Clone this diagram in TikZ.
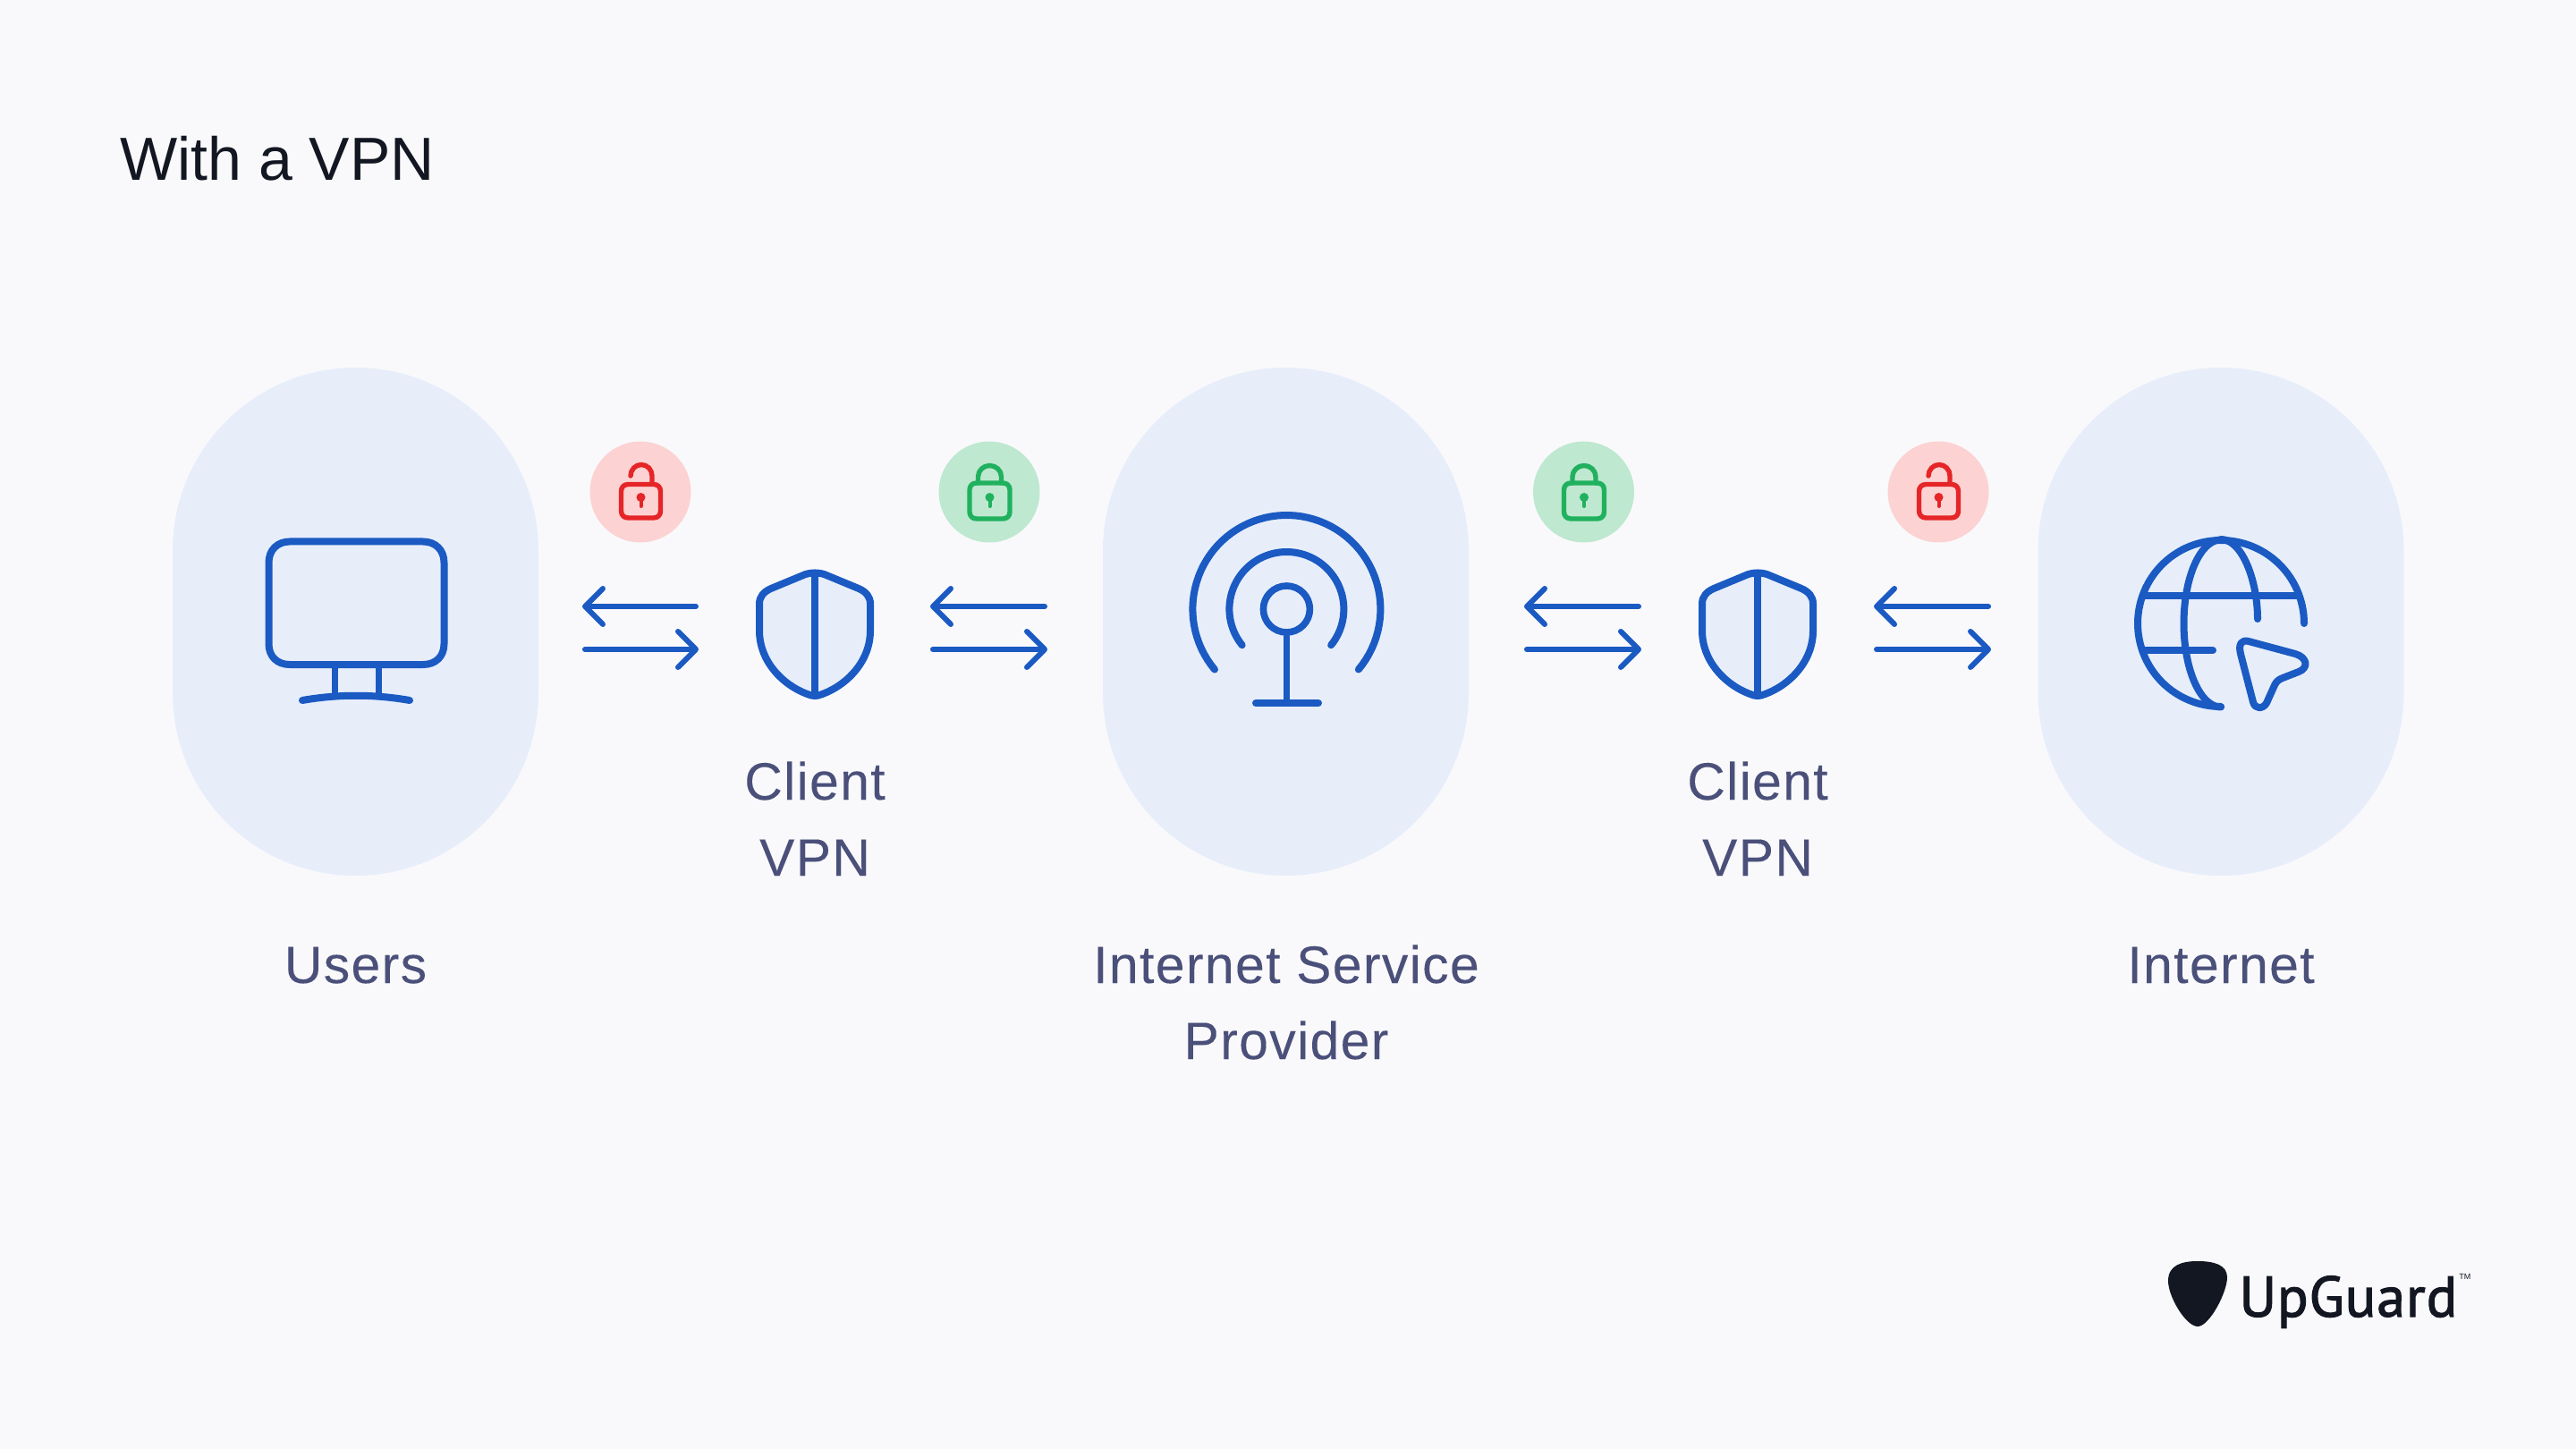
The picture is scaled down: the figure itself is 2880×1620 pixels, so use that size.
\documentclass[tikz,border=0pt]{standalone}
\usepackage{fontspec}
\setmainfont{Liberation Sans}
\newfontfamily\labfont[FakeBold=0.12,LetterSpace=2.4]{Liberation Sans}
\newfontfamily\logofont[FakeBold=1.8,LetterSpace=1.5]{PT Sans}
\usetikzlibrary{arrows.meta}
\definecolor{bgc}{HTML}{F9F9FC}
\definecolor{pillc}{HTML}{E7EEFA}
\definecolor{bluec}{HTML}{1A5AC2}
\definecolor{txtc}{HTML}{4A5079}
\definecolor{darkc}{HTML}{131722}
\definecolor{redc}{HTML}{E52527}
\definecolor{redbg}{HTML}{FCD2D2}
\definecolor{greenc}{HTML}{20B15E}
\definecolor{greenbg}{HTML}{BEE8D0}
\tikzset{
  pill/.style={fill=pillc,draw=none,rounded corners=102.2pt,minimum width=204.5pt,minimum height=284pt,inner sep=0pt},
  ico/.style={draw=bluec,line width=4pt,line cap=round,line join=round},
  icothin/.style={draw=bluec,line width=3.5pt,line cap=round,line join=round},
  flow/.style={draw=bluec,line width=3pt,line cap=round,shorten <=1.5pt,-{Straight Barb[length=10pt,width=20pt,line width=3pt,round]}},
  label/.style={text=txtc,font=\labfont\fontsize{29.4}{29.4}\selectfont,inner sep=0pt,anchor=base},
  badge/.style={circle,minimum size=56.5pt,inner sep=0pt,draw=none},
  lockline/.style={line width=2.7pt,line cap=round,line join=round},
}
\newcommand{\openlock}[1]{%
  \draw[lockline,draw=redc] (#1-22,549.5) -- (#1-22,571) .. controls (#1-22,576) and (#1-19,579) .. (#1-14,579) -- (#1+14,579) .. controls (#1+19,579) and (#1+22,576) .. (#1+22,571) -- (#1+22,549.5) .. controls (#1+22,544.5) and (#1+19,541.5) .. (#1+14,541.5) -- (#1-14,541.5) .. controls (#1-19,541.5) and (#1-22,544.5) .. (#1-22,549.5) -- cycle;
  \draw[lockline,draw=redc] (#1-11.5,532) .. controls (#1-11.5,525) and (#1-6,519.5) .. (#1+0.5,519.5) .. controls (#1+7,519.5) and (#1+12.5,525) .. (#1+12.5,532) -- (#1+12.5,540);
  \fill[redc] (#1,556) circle[radius=2.5pt];
  \draw[line width=2pt,line cap=round,draw=redc] (#1,556) -- (#1,566);
}
\newcommand{\closedlock}[1]{%
  \draw[lockline,draw=greenc] (#1-22.5,548) -- (#1-22.5,572) .. controls (#1-22.5,577) and (#1-19.5,580) .. (#1-14.5,580) -- (#1+14.5,580) .. controls (#1+19.5,580) and (#1+22.5,577) .. (#1+22.5,572) -- (#1+22.5,548) .. controls (#1+22.5,543) and (#1+19.5,540) .. (#1+14.5,540) -- (#1-14.5,540) .. controls (#1-19.5,540) and (#1-22.5,543) .. (#1-22.5,548) -- cycle;
  \draw[lockline,draw=greenc] (#1-13,540) -- (#1-13,533) .. controls (#1-13,526) and (#1-7,520.5) .. (#1,520.5) .. controls (#1+7,520.5) and (#1+13,526) .. (#1+13,533) -- (#1+13,540);
  \fill[greenc] (#1,556) circle[radius=2.5pt];
  \draw[line width=2pt,line cap=round,draw=greenc] (#1,556) -- (#1,566);
}
\begin{document}
\begin{tikzpicture}[x=0.5pt,y=-0.5pt]
\useasboundingbox (0,0) rectangle (2880,1620);
\fill[bgc] (0,0) rectangle (2880,1620);
% pills
\node[pill] (pa) at (397.5,695) {};
\node[pill] (pb) at (1437.5,695) {};
\node[pill] (pc) at (2483,695) {};
% badges
\node[badge,fill=redbg] (ba) at (716,550) {};
\node[badge,fill=greenbg] (bb) at (1106,550) {};
\node[badge,fill=greenbg] (bc) at (1770.5,550) {};
\node[badge,fill=redbg] (bd) at (2167,550) {};
\openlock{716.5}
\closedlock{1106.5}
\closedlock{1771}
\openlock{2167.5}
% title
\node[text=darkc,font=\fontsize{34}{34}\selectfont,inner sep=0pt,anchor=base west] (title) at (134,202) {With a VPN};
% labels
\node[label] (lusers) at (397.5,1099) {Users};
\node[label] (lca) at (911,894) {Client};
\node[label] (lva) at (911,979) {VPN};
\node[label] (lisp) at (1438,1099) {Internet Service};
\node[label] (lprov) at (1438,1184) {Provider};
\node[label] (lcb) at (1965,894) {Client};
\node[label] (lvb) at (1965,979) {VPN};
\node[label] (linet) at (2483,1099) {Internet};
% arrows
\foreach \n/\l/\r in {a/651/781,b/1040/1171,c/1704/1835,d/2095/2226}{
  \coordinate (\n L1) at (\l,678);
  \coordinate (\n R1) at (\r,678);
  \coordinate (\n L2) at (\l,726);
  \coordinate (\n R2) at (\r,726);
  \draw[flow] (\n R1) -- (\n L1);
  \draw[flow] (\n L2) -- (\n R2);
}
% monitor
\draw[ico] (324,605.5) -- (473,605.5) .. controls (487,605.5) and (496.5,615) .. (496.5,629) -- (496.5,720) .. controls (496.5,734) and (487,743) .. (473,743) -- (324,743) .. controls (310,743) and (300.5,734) .. (300.5,720) -- (300.5,629) .. controls (300.5,615) and (310,605.5) .. (324,605.5) -- cycle;
\draw[icothin] (374,747) -- (374,776) (423,747) -- (423,776);
\draw[ico] (338,783) .. controls (378,776) and (418,776) .. (458,783);
% tower
\draw[draw=bluec,line width=3.8pt] (1438.4,681) circle[radius=13pt];
\draw[ico] plot[domain=141:399,samples=70] ({1438.4+64*cos(\x)},{681+64*sin(\x)});
\draw[ico] plot[domain=140:400,samples=70] ({1438.4+105*cos(\x)},{681+105*sin(\x)});
\draw[icothin] (1438.4,711) -- (1438.4,786);
\draw[ico] (1404,786) -- (1474,786);
% globe
\draw[ico] plot[domain=0:-270,samples=90] ({2483+93*cos(\x)},{697+93*sin(\x)});
\draw[ico] plot[domain=-90:-270,samples=60] ({2483+41.5*cos(\x)},{697+93.5*sin(\x)});
\draw[ico] (2483,603) .. controls (2507,603) and (2524,650) .. (2524,692);
\draw[ico] (2398,665.7) -- (2568,665.7);
\draw[ico] (2398,727) -- (2474,727);
\draw[ico] (2514,717) -- (2566,731) .. controls (2580,735) and (2581,747) .. (2570,751) -- (2552,758) .. controls (2547,760) and (2545,762) .. (2543,766) -- (2534,786) .. controls (2530,793) and (2521,793) .. (2519,785) -- (2505,731) .. controls (2502,719) and (2507,715) .. (2514,717) -- cycle;
% shields
\foreach \c in {911,1965}{
  \begin{scope}[shift={(\c,0)}]
    \draw[ico,fill=pillc] (0,640.5) .. controls (5,640.5) and (10,641.5) .. (14,643.5) -- (49,658) .. controls (57,661.5) and (62,667) .. (62,675) -- (62,705) .. controls (62,742) and (32,769) .. (4,777.5) .. controls (1.5,778.2) and (-1.5,778.2) .. (-4,777.5) .. controls (-32,769) and (-62,742) .. (-62,705) -- (-62,675) .. controls (-62,667) and (-57,661.5) .. (-49,658) -- (-14,643.5) .. controls (-10,641.5) and (-5,640.5) .. (0,640.5) -- cycle;
    \draw[ico] (0,640.5) -- (0,778);
  \end{scope}
}
% logo
\fill[darkc] (2457,1410) .. controls (2475,1410) and (2490,1414) .. (2490,1428) .. controls (2490,1445) and (2470,1483) .. (2457,1483) .. controls (2444,1483) and (2424,1450) .. (2424,1432) .. controls (2424,1414) and (2440,1410) .. (2457,1410) -- cycle;
\node[text=darkc,inner sep=0pt,anchor=base west,font=\logofont\fontsize{32}{32}\selectfont] (logo) at (2503,1472) {UpGuard};
\node[text=darkc,inner sep=0pt,anchor=base west,font=\fontsize{4.5}{4.5}\selectfont] (tm) at (2749,1430) {TM};
\end{tikzpicture}
\end{document}
